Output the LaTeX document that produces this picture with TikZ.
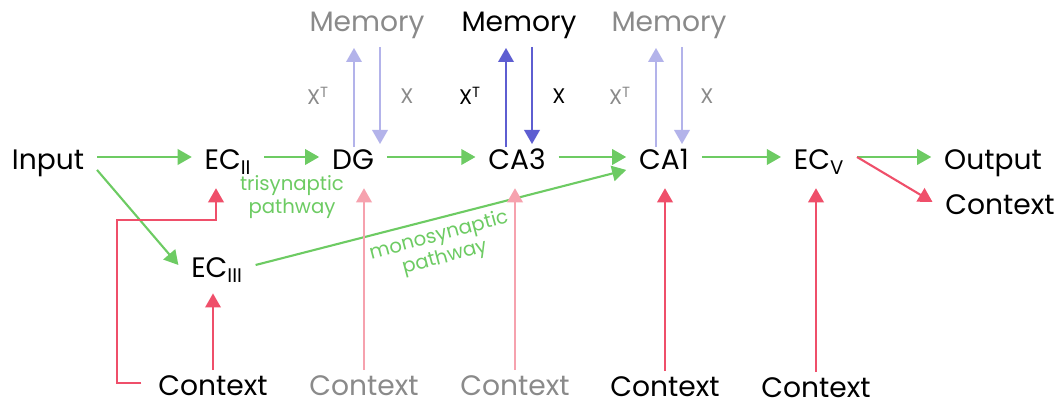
\documentclass[tikz,border=0pt]{standalone}
\usepackage{fontspec}
\setmainfont{Poppins}
\usepackage{xcolor}
\usepackage{tikz}
\usetikzlibrary{arrows.meta, calc}
\definecolor{hipgreen}{HTML}{6DCB63}
\definecolor{hipred}{HTML}{EF4F6A}
\definecolor{hipredlight}{HTML}{F6A2AE}
\definecolor{hippurple}{HTML}{5E5ED1}
\definecolor{hippurplelight}{HTML}{B3B3EA}
\definecolor{hipgray}{HTML}{8A8A8A}

\begin{document}
\begin{tikzpicture}[
  x=0.025cm, y=-0.025cm,
  lbl/.style={font=\fontsize{20}{24}\selectfont, inner xsep=9pt, inner ysep=0pt, text height=18pt, text depth=0pt},
  faded/.style={lbl, text=hipgray},
  small/.style={font=\fontsize{15}{18}\selectfont, inner sep=0pt},
  path/.style={font=\fontsize{14}{16}\selectfont, text=hipgreen, align=center, inner sep=0pt},
  garr/.style={-{Triangle[length=10pt, width=11pt]}, line width=1.5pt, hipgreen},
  rarr/.style={-{Triangle[length=10pt, width=11pt]}, line width=1.5pt, hipred},
  rarrl/.style={rarr, hipredlight},
  parr/.style={-{Triangle[length=10pt, width=11pt]}, line width=1.5pt, hippurple},
  parrl/.style={parr, hippurplelight}
]
\useasboundingbox (0,0) rectangle (1060,406);

\node[lbl] (input) at (48,157) {Input};
\node[lbl] (ec2) at (228,157) {EC\textsubscript{II}};
\node[lbl] (dg) at (353,157) {DG};
\node[lbl] (ca3) at (517,157) {CA3};
\node[lbl] (ca1) at (664,157) {CA1};
\node[lbl] (ec5) at (819,157) {EC\textsubscript{V}};
\node[lbl] (output) at (993,157) {Output};
\node[lbl] (ctxr) at (1000,202) {Context};
\node[lbl] (ec3) at (217,265) {EC\textsubscript{III}};

\node[faded] (mem1) at (367,19) {Memory};
\node[lbl] (mem2) at (519,19) {Memory};
\node[faded] (mem3) at (669,19) {Memory};

\node[lbl] (ctx1) at (213,383) {Context};
\node[faded] (ctx2) at (364,383) {Context};
\node[faded] (ctx3) at (515,383) {Context};
\node[lbl] (ctx4) at (665,384) {Context};
\node[lbl] (ctx5) at (816,385) {Context};

\node[small, text=hipgray] (xt1) at (318,96) {X\textsuperscript{T}};
\node[small, text=hipgray] (x1) at (407,96) {X};
\node[small] (xt2) at (470,96) {X\textsuperscript{T}};
\node[small] (x2) at (559,96) {X};
\node[small, text=hipgray] (xt3) at (620,96) {X\textsuperscript{T}};
\node[small, text=hipgray] (x3) at (707,96) {X};

\node[path] (tri) at (292,197) {trisynaptic\\pathway};
\node[path, rotate=15] (mono) at (442,247) {monosynaptic\\pathway};

% main stream
\draw[garr] (input) -- (ec2);
\draw[garr] (ec2) -- (dg);
\draw[garr] (dg) -- (ca3);
\draw[garr] (ca3) -- (ca1);
\draw[garr] (ca1) -- (ec5);
\draw[garr] (ec5) -- (output);
\draw[garr] (input.south east) -- (ec3.west);
\draw[garr] (ec3.east) -- (ca1.south west);
\draw[rarr] (ec5.east) -- (ctxr.west);

% memory read / write
\draw[parrl] ($(dg.north -| mem1.south)+(-13,3)$) -- ($(mem1.south)+(-13,16)$);
\draw[parrl] ($(mem1.south)+(13,15)$) -- ($(dg.north -| mem1.south)+(13,0)$);
\draw[parr] ($(ca3.north -| mem2.south)+(-13,3)$) -- ($(mem2.south)+(-13,16)$);
\draw[parr] ($(mem2.south)+(13,15)$) -- ($(ca3.north -| mem2.south)+(13,0)$);
\draw[parrl] ($(ca1.north -| mem3.south)+(-13,3)$) -- ($(mem3.south)+(-13,16)$);
\draw[parrl] ($(mem3.south)+(13,15)$) -- ($(ca1.north -| mem3.south)+(13,0)$);

% context
\coordinate (bend) at (117,220);
\draw[rarr, shorten <=3pt, shorten >=13pt] (ctx1.west) -| (bend) -| ($(ec2.south)+(-12,0)$);
\draw[rarr, shorten >=11pt] (ctx1.north) -- (ctx1.north |- ec3.south);
\draw[rarrl, shorten >=13pt] (ctx2.north) -- (ctx2.north |- dg.south);
\draw[rarrl, shorten >=13pt] (ctx3.north) -- (ctx3.north |- ca3.south);
\draw[rarr, shorten >=13pt] (ctx4.north) -- (ctx4.north |- ca1.south);
\draw[rarr, shorten >=13pt] (ctx5.north) -- (ctx5.north |- ec5.south);
\end{tikzpicture}
\end{document}
